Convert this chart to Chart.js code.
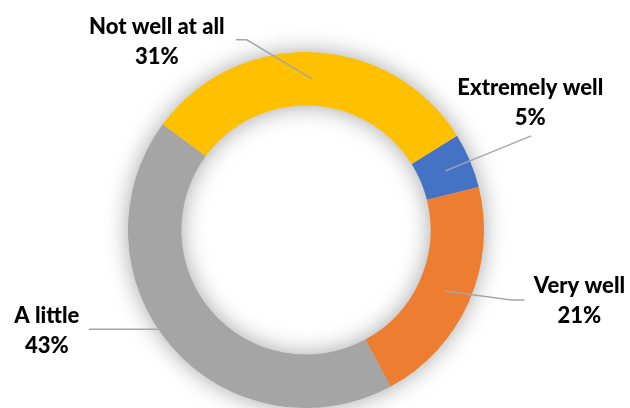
<!DOCTYPE html>
<html>
<head>
<meta charset="utf-8">
<script src="https://cdn.jsdelivr.net/npm/chart.js@4"></script>
<style>
  html, body { margin: 0; padding: 0; background: #fff; }
  #wrap { width: 630px; height: 408px; }
</style>
</head>
<body>
<div id="wrap"><canvas id="ratingChart" width="630" height="408"></canvas></div>
<script>
// Survey answers, in drawing order (clockwise from the start angle)
const categories = ['Extremely well', 'Very well', 'A little', 'Not well at all'];
const shares = [5, 21, 43, 31];
const sliceColors = ['#4472C4', '#ED7D31', '#A5A5A5', '#FFC000'];

// Callout layout per slice, offsets from the slice's mid-ring point:
// elbow of the leader, end of the leader, centre of the text block
const callouts = [
    { elbow: [86, -35], end: [86, -35], text: [85, -68] },
    { elbow: [67, 9], end: [80, 9], text: [135, 10] },
    { elbow: [-103, 0], end: [-103, 0], text: [-145, 2] },
    { elbow: [-65, -39], end: [-76, -39], text: [-155, -37] }
];

const labelFont = '900 22px Lato, "Open Sans", sans-serif';

// soft grey halo behind the ring
const ringShadow = {
    id: 'ringShadow',
    beforeDatasetsDraw(chart) {
        const arc = chart.getDatasetMeta(0).data[0];
        if (!arc) return;
        const { x, y, innerRadius, outerRadius } = arc;
        const ctx = chart.ctx;
        ctx.save();
        ctx.shadowColor = 'rgba(0, 0, 0, 0.38)';
        ctx.shadowBlur = 24;
        ctx.fillStyle = '#bbbbbb';
        ctx.beginPath();
        ctx.arc(x, y, outerRadius - 1, 0, Math.PI * 2);
        ctx.arc(x, y, innerRadius + 1, 0, Math.PI * 2, true);
        ctx.fill();
        ctx.restore();
    }
};

// category name + percent with a leader line into the slice
const calloutLabels = {
    id: 'calloutLabels',
    afterDatasetsDraw(chart) {
        const ctx = chart.ctx;
        const meta = chart.getDatasetMeta(0);
        meta.data.forEach((arc, i) => {
            const p = arc.tooltipPosition();
            const c = callouts[i];
            ctx.save();
            ctx.strokeStyle = '#a6a6a6';
            ctx.lineWidth = 1.5;
            ctx.beginPath();
            ctx.moveTo(p.x, p.y);
            ctx.lineTo(p.x + c.elbow[0], p.y + c.elbow[1]);
            ctx.lineTo(p.x + c.end[0], p.y + c.end[1]);
            ctx.stroke();

            ctx.fillStyle = '#000';
            ctx.font = labelFont;
            ctx.textAlign = 'center';
            ctx.textBaseline = 'middle';
            const tx = p.x + c.text[0];
            const ty = p.y + c.text[1];
            ctx.fillText(categories[i], tx, ty - 15);
            ctx.fillText(shares[i] + '%', tx, ty + 15);
            ctx.restore();
        });
    }
};

const ctx = document.getElementById('ratingChart').getContext('2d');
new Chart(ctx, {
    type: 'doughnut',
    data: {
        labels: categories,
        datasets: [{
            data: shares,
            backgroundColor: sliceColors,
            borderWidth: 0,
            hoverOffset: 0
        }]
    },
    options: {
        responsive: false,
        animation: false,
        cutout: '70%',
        rotation: 58,
        layout: {
            padding: { top: 52, bottom: 0, left: 100, right: 118 }
        },
        plugins: {
            legend: { display: false },
            tooltip: { enabled: false }
        }
    },
    plugins: [ringShadow, calloutLabels]
});
</script>
</body>
</html>
